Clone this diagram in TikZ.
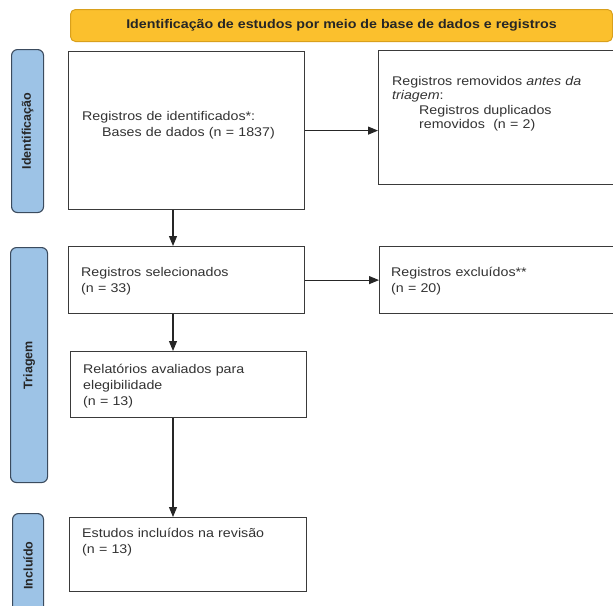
\documentclass[tikz,border=0pt]{standalone}
\usepackage{fontspec}
\setmainfont{Liberation Sans}[FakeStretch=1.13]
\newfontfamily\sidefont{Liberation Sans}
\usetikzlibrary{arrows.meta,calc}
\definecolor{bannerfill}{HTML}{FBC02D}
\definecolor{bannerline}{HTML}{D9A01C}
\definecolor{sidefill}{HTML}{9DC3E6}
\definecolor{sideline}{HTML}{3B4B5E}
\definecolor{boxline}{HTML}{3A3A3A}
\definecolor{txt}{HTML}{333333}
\tikzset{
  stagebox/.style={draw=boxline, line width=1.2pt, fill=white, inner sep=0pt, anchor=north west},
  sidebox/.style={draw=sideline, line width=1.1pt, fill=sidefill, rounded corners=6pt, inner sep=0pt, anchor=north west},
  sidelabel/.style={rotate=90, inner sep=0pt, font=\sidefont\bfseries\fontsize{12.5}{14}\selectfont, text=black!85},
  bannerbox/.style={draw=bannerline, line width=1pt, fill=bannerfill, rounded corners=5pt, inner sep=0pt, anchor=north west, font=\bfseries\fontsize{12.6}{14}\selectfont, text=black!85},
  txtnode/.style={anchor=base west, inner sep=0pt, text width=228pt, align=left, font=\fontsize{12.6}{16.5}\selectfont, text=txt},
  flowarrow/.style={draw=black!85, line width=1.1pt, -{Triangle[length=10pt,width=8pt]}}
}
\begin{document}
\begin{tikzpicture}[x=1pt,y=-1pt]
\useasboundingbox (0,0) rectangle (613,605);
% banner
\node[bannerbox, minimum width=542, minimum height=32] (banner) at (70,9) {Identificação de estudos por meio de base de dados e registros};
% side bars
\node[sidebox, minimum width=32, minimum height=163] (side1) at (11,49) {};
\node[sidelabel] (side1t) at (side1.center) {Identificação};
\node[sidebox, minimum width=37, minimum height=235] (side2) at (10,247) {};
\node[sidelabel] (side2t) at (side2.center) {Triagem};
\node[sidebox, minimum width=31, minimum height=104] (side3) at (12,513) {};
\node[sidelabel] (side3t) at (side3.center) {Incluído};
% boxes
\node[stagebox, minimum width=236, minimum height=158] (box1) at (68,51) {};
\node[stagebox, minimum width=240, minimum height=134] (box2) at (378,50) {};
\node[stagebox, minimum width=236, minimum height=67] (box3) at (68,246) {};
\node[stagebox, minimum width=240, minimum height=67] (box4) at (379,246) {};
\node[stagebox, minimum width=236, minimum height=66] (box5) at (70,351) {};
\node[stagebox, minimum width=237, minimum height=74] (box6) at (69,517) {};
% texts
\node[txtnode] (t1) at (82,120) {Registros de identificados*:\\\hspace*{20pt}Bases de dados (n = 1837)};
\node[txtnode, font=\fontsize{12.6}{14.5}\selectfont] (t2) at (392,85) {Registros removidos \textit{antes da triagem}:\\\hspace*{27pt}Registros duplicados\\\hspace*{27pt}removidos\ \ (n = 2)};
\node[txtnode] (t3) at (81,276) {Registros selecionados\\(n = 33)};
\node[txtnode] (t4) at (391,276) {Registros excluídos**\\(n = 20)};
\node[txtnode, font=\fontsize{12.6}{16}\selectfont] (t5) at (83,373) {Relatórios avaliados para\\elegibilidade\\(n = 13)};
\node[txtnode] (t6) at (82,537) {Estudos incluídos na revisão\\(n = 13)};
% arrows
\coordinate (c1) at ($(box1.south west)+(105,0)$);
\coordinate (c2) at ($(box3.south west)+(105,0)$);
\coordinate (c3) at ($(box5.south west)+(103,0)$);
\draw[flowarrow] (box1.east) -- (box1.east -| box2.west);
\draw[flowarrow] (box3.east) -- (box3.east -| box4.west);
\draw[flowarrow] (c1) -- (c1 |- box3.north);
\draw[flowarrow] (c2) -- (c2 |- box5.north);
\draw[flowarrow] (c3) -- (c3 |- box6.north);
\end{tikzpicture}
\end{document}
